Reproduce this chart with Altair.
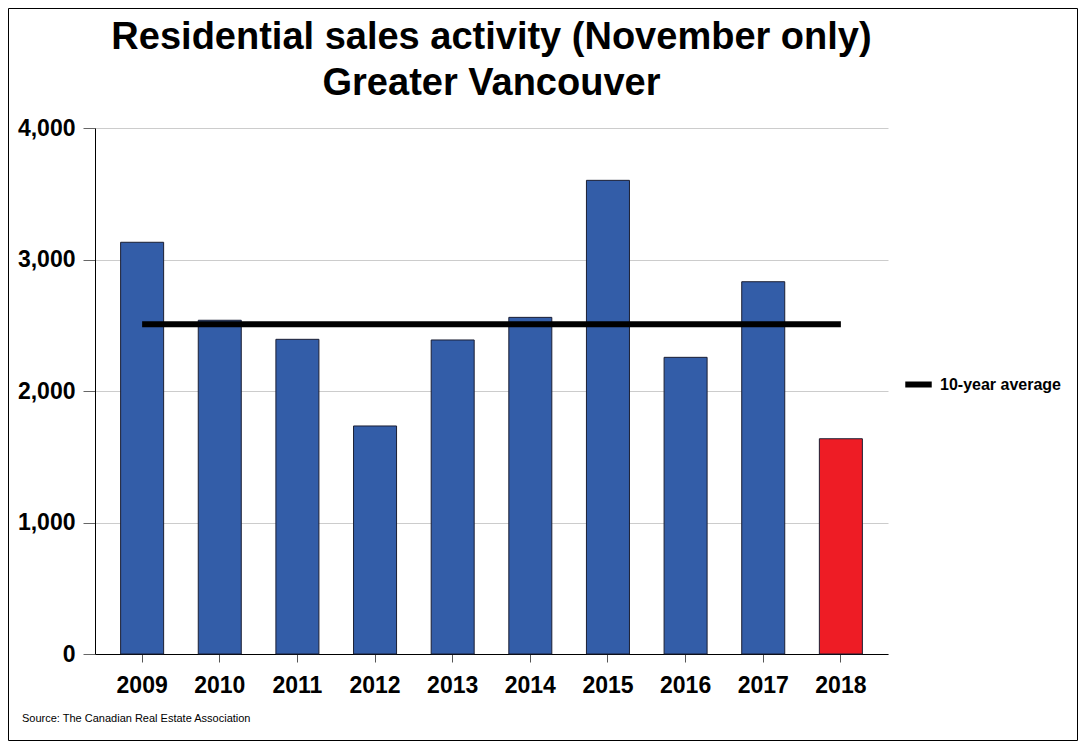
import altair as alt
import pandas as pd

years = ["2009", "2010", "2011", "2012", "2013", "2014", "2015", "2016", "2017", "2018"]
sales = [3131, 2538, 2393, 1734, 2388, 2560, 3602, 2256, 2831, 1637]
avg_value = 2507
avg_label = "10-year average"
title_lines = ["Residential sales activity (November only)", "Greater Vancouver"]
source_text = "Source: The Canadian Real Estate Association"

FONT = "Liberation Sans"
BLUE = "#335DA8"
RED = "#EE1C25"
W, H = 793, 526

bars_df = pd.DataFrame({"year": years, "sales": sales})
avg_df = pd.DataFrame({"year": years, "avg": [avg_value] * len(years), "series": [avg_label] * len(years)})

x_enc = alt.X(
    "year:N",
    sort=years,
    title=None,
    scale=alt.Scale(paddingInner=0.446, paddingOuter=0.33),
    axis=alt.Axis(labelAngle=0, labelFontSize=23, labelFontWeight="bold", labelColor="black",
                  labelFont=FONT, tickSize=8, tickColor="#555555", domainColor="black",
                  labelPadding=12, grid=False),
)

y_axis = alt.Axis(values=[0, 1000, 2000, 3000, 4000], format=",.0f", labelFontSize=23,
                  labelFontWeight="bold", labelColor="black", labelFont=FONT,
                  tickSize=12, tickColor="#666666", domainColor="black",
                  labelPadding=8, grid=True, gridColor="#cccccc")

bars = alt.Chart(bars_df).mark_bar(stroke="#1b1f33", strokeWidth=1).encode(
    x=x_enc,
    y=alt.Y("sales:Q", title=None, scale=alt.Scale(domain=[0, 4000]), axis=y_axis),
    fill=alt.condition(alt.datum.year == "2018", alt.value(RED), alt.value(BLUE)),
)

line = alt.Chart(avg_df).mark_line(strokeWidth=6, strokeCap="butt").encode(
    x=alt.X("year:N", sort=years),
    y=alt.Y("avg:Q", axis=y_axis, title=None),
    stroke=alt.Stroke("series:N", scale=alt.Scale(domain=[avg_label], range=["black"]),
                      legend=alt.Legend(title=None, orient="none", legendX=807, legendY=240,
                                        symbolType="stroke", symbolStrokeWidth=6, symbolSize=700,
                                        labelFontSize=16, labelFontWeight="bold", labelFont=FONT,
                                        labelColor="black", labelOffset=5, padding=0)),
)

title = alt.Chart(pd.DataFrame({"a": [0]})).mark_text(
    align="center", baseline="top", fontSize=38, font=FONT, fontWeight="bold",
    color="black", lineHeight=46
).encode(x=alt.value(W / 2), y=alt.value(-109), text=alt.value(title_lines))

src = alt.Chart(pd.DataFrame({"t": [source_text]})).mark_text(
    align="left", baseline="middle", fontSize=11, font=FONT, color="black"
).encode(x=alt.value(-73), y=alt.value(591), text="t:N")

frame = alt.Chart(pd.DataFrame({"a": [0]})).mark_rect(fill=None, stroke="black", strokeWidth=1).encode(
    x=alt.value(-86.5), x2=alt.value(982.5), y=alt.value(-119.5), y2=alt.value(612.5)
)

chart = alt.layer(bars, line, title, src, frame).properties(
    width=W, height=H,
    background="white",
    autosize=alt.AutoSizeParams(type="none"),
    padding={"left": 87, "top": 120, "right": 190, "bottom": 87},
).configure_view(stroke=None)

chart.save("out.html", embed_options={"renderer": "svg", "actions": False})
